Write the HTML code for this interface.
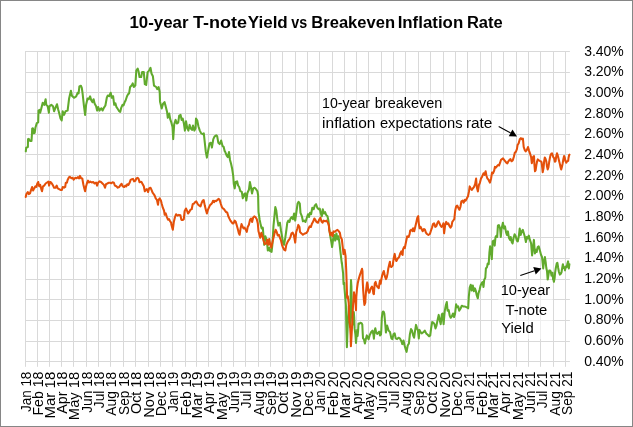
<!DOCTYPE html>
<html><head><meta charset="utf-8"><title>10-year T-note Yield vs Breakeven Inflation Rate</title>
<style>html,body{margin:0;padding:0;background:#fff;overflow:hidden}svg{display:block}text{font-family:"Liberation Sans",sans-serif;fill:#000}</style>
</head><body>
<svg width="633" height="427" viewBox="0 0 633 427">
<rect x="0" y="0" width="633" height="427" fill="#fff"/>
<path d="M25.0 361.5H569.9M25.0 341.5H569.9M25.0 320.5H569.9M25.0 299.5H569.9M25.0 279.5H569.9M25.0 258.5H569.9M25.0 237.5H569.9M25.0 216.5H569.9M25.0 196.5H569.9M25.0 175.5H569.9M25.0 154.5H569.9M25.0 134.5H569.9M25.0 113.5H569.9M25.0 92.5H569.9M25.0 72.5H569.9M25.0 51.5H569.9M25.5 51.0V366.8M37.5 51.0V366.8M49.5 51.0V366.8M61.5 51.0V366.8M73.5 51.0V366.8M86.5 51.0V366.8M98.5 51.0V366.8M110.5 51.0V366.8M123.5 51.0V366.8M135.5 51.0V366.8M148.5 51.0V366.8M160.5 51.0V366.8M172.5 51.0V366.8M185.5 51.0V366.8M196.5 51.0V366.8M208.5 51.0V366.8M221.5 51.0V366.8M233.5 51.0V366.8M245.5 51.0V366.8M258.5 51.0V366.8M270.5 51.0V366.8M282.5 51.0V366.8M295.5 51.0V366.8M307.5 51.0V366.8M319.5 51.0V366.8M332.5 51.0V366.8M344.5 51.0V366.8M356.5 51.0V366.8M368.5 51.0V366.8M381.5 51.0V366.8M393.5 51.0V366.8M405.5 51.0V366.8M418.5 51.0V366.8M430.5 51.0V366.8M443.5 51.0V366.8M455.5 51.0V366.8M467.5 51.0V366.8M480.5 51.0V366.8M491.5 51.0V366.8M503.5 51.0V366.8M516.5 51.0V366.8M528.5 51.0V366.8M540.5 51.0V366.8M553.5 51.0V366.8M565.5 51.0V366.8" stroke="#d9d9d9" stroke-width="1" fill="none"/>
<polyline points="25.8,151.3 26.2,147.7 27.9,147.0 28.0,139.2 28.7,138.9 30.1,141.0 31.5,141.0 31.9,135.0 32.2,128.6 32.9,128.2 33.8,133.2 34.7,132.8 35.4,127.8 36.8,123.1 38.2,122.3 38.5,110.6 39.6,109.9 40.2,112.7 41.3,108.5 42.7,102.8 44.2,104.9 45.6,99.2 46.3,104.9 47.7,106.3 48.9,112.7 49.4,106.3 51.3,104.9 53.0,106.3 54.1,111.3 55.5,107.7 57.0,104.2 58.1,109.2 59.1,112.7 60.5,118.4 61.7,120.5 62.7,111.3 64.1,114.9 65.5,111.3 67.6,110.6 69.1,98.5 70.9,90.7 71.9,95.7 74.0,97.8 76.2,96.4 77.6,92.8 78.6,93.5 79.4,86.4 80.9,85.7 81.8,87.8 82.6,93.5 84.0,106.3 85.1,114.9 86.1,104.9 87.5,98.5 88.7,99.2 90.1,96.4 91.1,99.9 92.5,102.1 93.6,99.2 94.6,103.5 96.1,106.3 97.1,110.6 98.2,107.0 99.6,110.6 100.0,109.7 101.4,108.3 102.6,110.5 104.0,107.6 105.4,105.5 106.8,97.7 107.8,95.5 109.2,96.2 110.7,92.7 111.7,97.7 113.1,96.2 114.2,104.8 115.4,103.3 116.4,106.9 117.8,109.0 119.2,111.2 120.2,111.9 121.3,107.6 122.5,104.8 123.5,105.5 124.5,102.6 125.6,100.5 127.0,96.2 128.2,94.1 129.1,93.4 130.1,87.0 131.6,85.6 132.7,83.4 133.8,87.0 135.3,85.6 136.3,70.6 137.7,68.5 138.7,72.1 139.5,77.0 141.2,77.0 142.1,72.1 143.8,72.1 144.8,84.1 146.2,84.9 147.6,72.1 149.1,70.6 150.5,67.8 151.5,73.5 152.9,76.3 154.0,85.6 156.2,87.0 157.2,89.1 158.6,87.0 159.7,92.0 160.0,101.4 161.7,108.5 163.1,103.6 164.5,102.1 165.7,106.4 167.1,112.1 167.8,117.8 169.2,113.5 170.2,119.2 171.4,122.7 172.5,127.0 173.2,139.1 174.2,124.2 175.6,119.9 176.8,123.5 178.2,122.7 179.2,115.6 180.6,114.9 181.6,119.9 182.7,118.5 183.9,123.5 184.9,130.6 186.0,121.3 187.3,128.4 188.4,130.6 189.6,124.9 190.6,128.4 192.0,129.9 193.0,125.6 194.4,130.6 195.5,128.4 196.0,118.5 197.3,120.6 198.4,126.3 199.8,130.6 201.2,133.4 202.7,134.1 203.8,133.4 204.8,142.7 205.8,151.9 206.9,157.6 208.3,149.8 209.5,143.4 210.9,142.7 211.9,147.6 213.3,139.1 214.7,136.3 216.2,135.3 217.2,136.3 218.3,142.7 219.7,144.1 221.1,140.5 222.6,146.2 223.7,146.9 224.7,151.2 225.0,151.4 226.7,155.7 227.8,157.1 229.0,152.1 230.0,160.0 231.0,163.5 232.1,168.5 233.2,175.6 233.8,184.1 234.7,188.4 235.7,182.0 237.1,181.3 238.1,185.5 239.2,187.0 240.4,191.2 241.8,191.9 242.8,198.3 244.2,194.1 245.2,193.4 246.3,200.5 247.5,192.7 248.9,189.8 249.9,182.0 250.9,187.0 252.0,193.4 253.2,188.4 254.6,187.7 256.0,189.1 257.4,191.2 258.1,195.0 258.5,212.1 259.7,219.9 260.7,224.9 261.7,228.4 262.8,227.7 263.5,236.2 264.2,244.8 265.4,236.2 266.8,240.5 267.8,250.5 269.2,247.6 270.2,251.2 271.6,251.9 272.5,243.3 273.5,225.6 274.5,215.6 275.3,207.1 276.3,210.6 277.3,219.2 278.4,225.6 279.9,222.7 281.0,230.5 282.0,236.2 283.0,242.6 284.1,244.8 285.3,237.7 286.3,230.5 287.3,222.7 288.4,220.6 289.5,222.0 290.5,218.5 291.9,217.0 292.9,219.2 294.1,213.5 295.2,220.6 296.2,213.5 297.6,203.5 298.6,201.8 299.8,203.5 300.5,212.8 301.9,216.3 302.9,221.3 304.3,220.6 305.5,222.0 306.6,218.5 308.0,214.2 309.0,217.0 310.0,212.8 311.1,214.2 312.3,207.8 313.7,209.2 314.7,205.7 316.1,204.2 317.3,207.8 318.7,209.2 319.7,208.5 320.8,213.5 321.8,216.3 322.8,209.2 323.9,213.5 325.1,212.1 326.1,214.9 327.5,216.3 328.5,221.3 329.3,229.1 330.3,236.2 331.3,241.9 332.1,247.0 333.2,238.5 334.2,234.9 335.2,240.6 336.4,233.5 337.5,239.2 338.5,236.3 339.5,243.4 340.6,253.4 341.8,263.3 341.8,262.0 342.4,267.7 343.1,273.4 343.4,281.0 343.6,284.3 344.3,282.9 344.5,288.5 345.2,297.0 345.9,305.0 346.3,325.0 346.9,347.3 347.7,326.0 348.1,318.0 348.5,312.0 348.9,306.0 349.6,318.0 350.2,327.0 350.6,297.0 351.0,280.0 351.4,286.0 351.8,307.0 352.4,318.0 353.0,324.5 353.4,316.0 353.8,312.0 354.2,317.0 354.6,328.4 355.4,334.5 356.0,343.0 356.6,336.0 357.2,330.0 357.6,336.0 358.1,331.0 358.5,323.5 359.5,323.6 360.5,322.8 361.6,323.2 362.3,324.5 362.6,331.0 363.0,338.3 363.9,339.2 364.9,343.5 365.8,339.2 366.8,335.4 367.7,337.3 368.6,339.2 369.6,335.4 370.5,333.5 371.5,331.6 372.4,330.7 373.4,334.5 373.9,338.7 374.6,330.7 375.3,328.3 376.2,332.6 377.2,334.0 378.1,332.6 379.1,331.6 380.0,335.4 381.0,334.5 381.3,330.0 381.8,318.0 382.5,312.5 383.0,311.6 383.7,311.8 384.3,313.5 384.9,320.0 385.4,326.0 385.9,332.5 386.4,329.0 387.1,325.6 388.6,330.6 390.0,332.0 391.4,338.4 392.4,339.1 393.5,334.1 394.7,333.4 395.7,338.4 397.1,339.1 398.5,337.7 399.9,338.4 401.4,341.2 402.3,344.1 403.5,340.5 404.6,345.5 405.6,349.1 406.6,351.9 407.7,345.5 408.9,343.4 409.9,334.1 411.0,329.1 412.0,330.6 413.2,335.5 414.1,337.7 415.1,330.6 416.0,324.9 417.0,328.4 418.0,330.6 418.8,338.4 419.5,329.9 420.5,332.0 421.7,333.4 422.7,332.7 423.7,332.0 424.8,330.6 426.2,333.4 427.7,334.8 429.1,336.3 430.2,335.5 431.2,327.7 432.2,322.0 433.3,322.7 434.5,324.2 435.5,328.4 436.5,325.6 437.6,319.9 438.7,314.9 439.7,319.9 440.7,324.2 441.9,314.2 442.6,313.5 443.6,324.2 444.7,311.4 445.9,305.0 446.8,302.1 447.6,310.7 448.7,310.0 449.7,315.6 450.7,317.8 451.8,316.4 453.0,313.5 454.0,317.1 455.0,314.2 456.1,304.3 457.2,307.1 458.2,306.4 459.2,310.7 460.6,308.5 461.8,305.7 463.2,306.4 464.6,306.4 466.3,307.1 467.7,307.8 468.2,308.3 468.8,296.9 469.7,287.7 470.7,284.8 471.7,290.5 472.8,285.5 473.9,291.2 474.9,288.4 475.9,291.2 476.8,295.5 477.8,298.3 478.5,293.4 479.6,289.8 480.6,285.5 481.6,283.4 482.5,282.0 483.5,287.0 484.2,279.9 485.3,277.7 485.9,268.5 487.0,267.1 487.7,263.5 488.7,264.2 489.4,252.7 490.1,246.3 491.2,252.0 491.8,259.1 492.7,241.3 493.7,240.6 494.7,245.6 495.5,237.0 496.5,235.6 497.2,237.0 497.9,225.7 498.9,225.0 500.1,228.5 500.8,237.0 501.5,229.2 502.9,222.8 504.0,228.5 505.0,226.4 506.0,232.1 506.9,234.9 507.9,231.4 508.9,237.7 510.0,239.9 510.7,237.0 511.7,242.0 512.6,243.4 513.6,237.7 514.6,234.2 515.7,236.3 516.8,240.6 517.8,241.3 518.8,236.3 519.7,228.5 520.7,234.9 521.7,231.4 522.8,229.9 523.9,233.5 524.9,237.0 525.9,242.0 526.8,237.0 527.8,238.5 528.8,235.6 529.9,239.9 531.1,243.4 532.1,255.5 533.0,247.7 533.9,239.9 534.9,253.4 535.9,249.8 536.7,252.0 537.7,247.0 538.7,246.3 539.9,250.5 541.0,254.8 542.0,256.9 542.5,261.4 543.2,268.5 544.0,261.4 544.9,257.1 545.7,262.3 546.3,268.0 547.0,270.9 547.7,279.9 548.5,274.6 549.2,270.4 550.1,270.4 550.8,271.8 551.5,275.6 552.5,272.7 553.2,280.3 553.9,281.8 554.6,278.4 555.1,272.7 555.8,268.0 556.8,263.3 557.4,262.8 558.2,268.0 558.9,271.8 559.9,274.6 560.8,273.7 561.5,272.3 562.2,268.0 562.9,264.2 563.7,268.0 564.3,267.1 565.0,270.4 565.8,266.6 566.7,267.1 567.5,263.3 568.1,261.4 568.8,268.5 569.4,264.2" fill="none" stroke="#61aa2d" stroke-width="2.05" stroke-linejoin="round" stroke-linecap="round"/>
<polyline points="25.7,197.0 26.4,194.1 27.8,192.0 28.8,194.1 30.0,193.4 31.1,189.9 32.1,187.0 33.1,190.6 34.2,188.4 35.4,186.3 36.4,187.0 37.3,183.5 38.2,182.0 39.2,186.3 40.2,184.9 41.3,189.1 42.0,191.3 43.0,186.3 44.2,185.6 45.6,183.5 47.0,182.5 48.4,181.6 49.1,185.6 50.1,182.0 51.3,182.7 52.7,184.9 54.1,187.7 55.5,187.7 56.7,185.6 57.7,188.4 59.1,189.1 60.5,189.9 61.9,189.9 62.7,187.0 64.1,187.7 65.2,187.0 65.8,182.7 66.9,182.7 67.6,179.9 69.1,177.1 70.0,176.8 71.2,178.2 72.6,177.8 73.7,179.6 75.2,177.8 76.6,178.2 78.0,177.1 79.0,178.5 80.0,175.9 81.1,178.2 82.3,178.5 83.3,184.2 84.3,188.4 85.1,191.3 86.1,186.3 87.1,182.7 88.0,180.6 89.0,182.5 90.4,181.6 91.8,182.5 93.2,182.0 94.6,183.5 96.1,182.5 97.1,185.6 98.2,182.5 99.6,181.3 101.0,182.0 102.5,183.5 103.9,184.9 105.0,187.7 106.0,184.2 107.4,183.5 108.9,182.7 110.0,182.7 111.4,183.2 112.5,182.3 113.9,182.8 114.9,185.6 116.4,186.3 117.8,187.7 119.2,187.0 120.6,184.9 121.6,183.8 122.7,186.3 124.2,187.0 125.3,185.6 126.3,186.3 127.3,184.2 128.4,184.9 129.6,182.8 130.6,179.9 132.0,179.2 133.0,178.9 134.1,181.4 135.3,180.9 136.3,178.5 137.7,177.8 138.7,179.2 139.5,182.3 140.5,181.8 141.5,182.1 142.7,184.2 143.8,186.3 144.8,191.3 145.8,189.9 146.9,189.2 148.1,192.0 149.1,188.5 150.5,187.7 151.5,189.9 152.6,192.7 153.7,194.1 154.7,195.6 155.7,198.4 156.9,199.8 158.0,204.8 158.6,199.8 159.7,198.4 160.9,200.5 161.8,204.1 162.8,207.7 164.0,210.5 164.7,214.8 165.7,213.3 166.8,216.9 168.0,219.7 169.0,219.0 170.0,221.2 171.1,222.6 171.4,224.8 172.8,229.8 173.8,222.0 175.0,217.0 176.1,214.2 177.5,215.6 178.9,214.9 180.4,215.3 181.4,219.9 182.8,219.9 183.8,219.1 184.6,211.3 186.0,208.5 187.0,210.6 188.0,213.5 189.2,212.0 190.3,209.9 191.7,209.2 192.7,204.2 194.1,203.5 195.1,202.1 196.3,201.4 197.4,203.5 198.4,204.9 199.4,205.6 200.5,206.4 201.7,202.8 202.7,200.7 203.7,200.0 204.8,205.6 205.9,209.9 206.9,213.5 207.9,209.9 209.1,207.1 210.2,204.9 211.2,204.2 212.2,202.8 213.1,200.7 214.1,202.1 215.0,200.7 216.2,201.1 217.3,200.0 218.7,198.8 219.7,200.0 220.7,203.5 221.9,207.1 223.0,208.5 224.0,209.2 225.0,210.6 226.1,212.0 227.3,212.7 228.3,216.3 229.3,218.4 230.4,220.6 231.5,222.0 232.5,223.4 233.5,223.4 234.7,220.6 235.8,222.0 236.8,225.5 237.8,229.1 238.9,233.4 239.6,234.8 240.6,228.4 241.5,224.1 242.5,226.3 243.5,228.4 244.6,227.7 245.8,229.8 246.8,231.9 247.7,227.0 248.9,224.8 250.0,219.9 251.1,218.5 252.1,222.0 253.1,217.7 254.3,216.3 255.4,217.0 256.8,219.2 257.8,223.4 258.5,231.3 259.7,235.5 260.2,237.7 261.4,232.7 262.5,236.2 263.5,240.5 264.9,244.1 266.4,243.3 267.1,239.8 268.2,244.8 269.2,239.1 270.2,244.1 271.3,247.6 272.5,241.9 273.5,237.7 274.5,233.4 275.6,229.8 276.7,232.0 277.7,235.5 278.9,234.8 279.9,237.7 281.0,240.5 282.0,244.8 283.0,247.6 284.1,249.7 285.3,250.5 286.3,244.8 287.3,242.6 288.4,240.5 289.5,239.1 290.5,236.9 291.5,233.4 292.7,232.7 293.8,234.8 295.2,242.6 296.2,232.0 297.2,229.1 298.3,224.9 299.5,227.0 300.0,232.0 301.5,233.4 302.9,234.8 304.3,233.7 306.2,233.1 307.6,231.3 308.6,228.4 309.7,226.3 310.9,227.0 311.8,224.1 313.3,221.3 314.3,218.5 315.4,219.9 316.5,222.0 318.0,222.7 319.4,219.2 320.4,217.7 321.4,221.3 322.5,222.7 323.6,220.6 325.1,221.3 326.5,220.6 327.9,222.7 328.9,225.6 329.3,230.6 330.4,234.9 331.4,232.8 332.4,236.3 333.5,231.4 335.0,231.8 336.4,230.4 337.5,229.9 338.9,231.4 339.9,232.8 340.6,237.0 341.8,239.2 342.8,247.7 343.5,254.1 344.6,249.8 345.6,256.2 346.2,269.6 346.6,281.0 346.9,290.4 347.1,298.0 347.8,296.1 348.3,299.9 348.7,303.0 349.2,318.7 350.2,328.2 350.6,335.0 350.9,346.3 351.6,335.0 352.3,322.0 353.0,306.0 353.6,298.0 354.0,292.3 354.4,295.0 355.1,299.9 355.6,304.0 356.0,310.2 356.3,297.0 357.0,288.5 357.8,282.9 358.7,279.1 359.8,275.3 361.1,271.5 362.0,268.8 362.5,271.5 362.7,281.0 363.2,290.4 363.9,299.9 364.4,305.0 365.3,302.6 365.5,298.0 366.1,290.4 366.8,284.3 367.2,282.4 367.7,284.7 368.2,290.4 368.9,292.8 369.6,292.3 370.3,289.5 371.0,288.1 372.0,286.6 372.7,288.5 373.4,293.8 373.9,294.2 374.3,288.5 374.8,283.3 375.6,281.9 376.2,284.3 377.2,286.6 378.1,287.6 378.8,288.1 379.4,283.8 380.0,280.5 380.7,283.8 381.4,279.1 382.2,275.3 383.2,272.4 383.8,271.0 384.5,274.3 385.2,277.2 386.0,279.1 386.7,277.6 387.6,273.4 388.3,268.5 389.2,264.5 389.9,261.7 390.3,266.3 391.3,267.0 392.7,265.6 393.3,261.0 393.8,257.8 394.7,253.9 395.6,259.2 396.4,261.0 397.7,258.5 399.1,257.1 400.2,253.5 401.3,251.4 402.0,254.2 402.6,255.0 403.0,249.3 404.0,247.1 404.8,248.2 405.5,244.5 406.0,242.0 407.2,236.3 408.6,237.0 409.6,234.2 410.2,230.5 411.4,229.7 412.5,231.2 413.1,228.3 414.2,231.2 415.4,226.2 416.4,221.9 417.3,217.7 418.2,216.2 418.8,223.3 419.6,228.3 420.6,226.9 421.6,229.0 422.7,231.2 423.9,229.0 424.9,229.7 425.9,232.6 427.0,234.0 428.4,235.0 429.9,234.0 431.0,230.5 432.0,227.6 433.0,224.1 434.1,223.3 435.3,226.9 436.3,226.2 437.3,223.3 438.4,221.2 439.5,223.3 440.5,225.5 441.5,226.9 442.7,225.5 443.4,223.3 444.1,233.3 445.2,224.8 446.2,221.9 447.2,224.1 448.3,223.3 449.5,226.2 450.5,227.6 451.5,226.2 452.3,221.9 453.3,220.5 454.3,219.1 455.2,210.5 456.2,206.3 457.2,205.6 458.3,207.7 459.4,209.8 460.4,207.0 461.4,201.3 462.6,200.6 463.7,202.7 464.7,199.9 465.7,200.6 466.8,198.5 468.0,196.3 469.0,191.4 469.7,186.4 470.8,188.5 471.8,189.9 472.8,188.5 473.9,187.1 475.1,184.2 476.1,178.6 476.8,187.1 477.9,191.4 478.9,185.0 479.9,182.8 481.0,178.6 482.2,176.4 483.5,173.3 484.5,174.8 485.6,171.2 486.4,175.5 487.3,178.3 488.5,179.7 489.9,182.6 491.0,179.0 492.0,172.6 493.0,173.3 494.2,170.5 494.9,166.9 495.9,167.7 497.0,166.2 498.2,164.8 499.1,165.5 500.1,162.7 501.0,159.8 502.0,159.1 503.0,158.4 504.1,159.8 505.3,161.3 506.3,162.7 507.3,163.4 508.4,161.3 509.5,159.8 510.5,159.1 511.5,161.3 512.7,160.5 513.8,157.0 514.8,152.7 515.8,152.0 516.9,149.2 517.6,144.9 518.6,143.5 519.8,139.2 520.9,138.1 521.9,139.2 522.9,138.5 523.7,147.0 524.7,149.9 525.7,151.3 526.9,149.9 528.0,147.0 529.0,150.6 530.0,153.4 531.1,157.0 531.8,163.2 532.5,159.9 533.3,156.6 534.0,156.1 534.4,164.6 535.0,171.3 535.6,170.3 536.3,165.6 537.1,161.3 537.8,159.4 538.8,160.4 539.7,160.9 540.7,161.3 541.6,162.3 542.3,168.4 542.7,172.2 543.5,168.4 544.2,160.9 544.8,157.5 545.6,159.0 546.4,161.8 547.0,166.5 547.7,169.4 548.4,167.5 549.2,161.8 549.9,158.0 550.5,155.2 551.3,153.7 552.0,153.3 552.7,155.2 553.4,157.5 554.1,158.0 554.9,161.8 555.5,161.3 556.2,156.6 557.0,153.3 557.7,155.2 558.4,158.0 559.1,160.9 559.8,163.7 560.6,167.5 561.2,169.4 561.9,167.0 562.7,163.2 563.4,159.0 564.1,156.1 564.7,157.5 565.5,161.3 566.3,162.7 567.2,161.3 568.2,160.9 568.5,158.0 569.1,155.2 569.5,154.7" fill="none" stroke="#e4500a" stroke-width="2.05" stroke-linejoin="round" stroke-linecap="round"/>
<g opacity="0.999">
<rect x="319.7" y="93.3" width="175.8" height="40.6" fill="#fff" fill-opacity="0.55"/>
<rect x="498.2" y="280" width="54.6" height="59" fill="#fff" fill-opacity="0.55"/>
<text x="129.5" y="28.2" font-size="17.2" font-weight="bold" textLength="59.05" lengthAdjust="spacingAndGlyphs">10-year</text>
<text x="192.95" y="28.2" font-size="17.2" font-weight="bold" textLength="54.0" lengthAdjust="spacingAndGlyphs">T-note</text>
<text x="247.7" y="28.2" font-size="17.2" font-weight="bold" textLength="40.1" lengthAdjust="spacingAndGlyphs">Yield</text>
<text x="291.3" y="28.2" font-size="17.2" font-weight="bold" textLength="15.9" lengthAdjust="spacingAndGlyphs">vs</text>
<text x="311.3" y="28.2" font-size="17.2" font-weight="bold" textLength="83.7" lengthAdjust="spacingAndGlyphs">Breakeven</text>
<text x="397.65" y="28.2" font-size="17.2" font-weight="bold" textLength="65.55" lengthAdjust="spacingAndGlyphs">Inflation</text>
<text x="466.9" y="28.2" font-size="17.2" font-weight="bold" textLength="35.8" lengthAdjust="spacingAndGlyphs">Rate</text>
<text x="584.15" y="365.63" font-size="13.8" textLength="39.65" lengthAdjust="spacingAndGlyphs">0.40%</text>
<text x="584.15" y="344.96" font-size="13.8" textLength="39.65" lengthAdjust="spacingAndGlyphs">0.60%</text>
<text x="584.15" y="324.29" font-size="13.8" textLength="39.65" lengthAdjust="spacingAndGlyphs">0.80%</text>
<text x="584.15" y="303.62" font-size="13.8" textLength="39.65" lengthAdjust="spacingAndGlyphs">1.00%</text>
<text x="584.15" y="282.95" font-size="13.8" textLength="39.65" lengthAdjust="spacingAndGlyphs">1.20%</text>
<text x="584.15" y="262.28" font-size="13.8" textLength="39.65" lengthAdjust="spacingAndGlyphs">1.40%</text>
<text x="584.15" y="241.61" font-size="13.8" textLength="39.65" lengthAdjust="spacingAndGlyphs">1.60%</text>
<text x="584.15" y="220.94" font-size="13.8" textLength="39.65" lengthAdjust="spacingAndGlyphs">1.80%</text>
<text x="584.15" y="200.27" font-size="13.8" textLength="39.65" lengthAdjust="spacingAndGlyphs">2.00%</text>
<text x="584.15" y="179.60" font-size="13.8" textLength="39.65" lengthAdjust="spacingAndGlyphs">2.20%</text>
<text x="584.15" y="158.93" font-size="13.8" textLength="39.65" lengthAdjust="spacingAndGlyphs">2.40%</text>
<text x="584.15" y="138.26" font-size="13.8" textLength="39.65" lengthAdjust="spacingAndGlyphs">2.60%</text>
<text x="584.15" y="117.59" font-size="13.8" textLength="39.65" lengthAdjust="spacingAndGlyphs">2.80%</text>
<text x="584.15" y="96.92" font-size="13.8" textLength="39.65" lengthAdjust="spacingAndGlyphs">3.00%</text>
<text x="584.15" y="76.25" font-size="13.8" textLength="39.65" lengthAdjust="spacingAndGlyphs">3.20%</text>
<text x="584.15" y="55.58" font-size="13.8" textLength="39.65" lengthAdjust="spacingAndGlyphs">3.40%</text>
<text transform="translate(30.75 412.03) rotate(-90)" font-size="13.9" textLength="40.38" lengthAdjust="spacingAndGlyphs">Jan 18</text>
<text transform="translate(42.77 415.48) rotate(-90)" font-size="13.9" textLength="43.82" lengthAdjust="spacingAndGlyphs">Feb 18</text>
<text transform="translate(54.79 418.57) rotate(-90)" font-size="13.9" textLength="46.9" lengthAdjust="spacingAndGlyphs">Mar 18</text>
<text transform="translate(66.82 413.78) rotate(-90)" font-size="13.9" textLength="42.14" lengthAdjust="spacingAndGlyphs">Apr 18</text>
<text transform="translate(78.84 420.18) rotate(-90)" font-size="13.9" textLength="48.51" lengthAdjust="spacingAndGlyphs">May 18</text>
<text transform="translate(91.86 412.74) rotate(-90)" font-size="13.9" textLength="41.13" lengthAdjust="spacingAndGlyphs">Jun 18</text>
<text transform="translate(103.89 408.18) rotate(-90)" font-size="13.9" textLength="36.52" lengthAdjust="spacingAndGlyphs">Jul 18</text>
<text transform="translate(115.91 415.66) rotate(-90)" font-size="13.9" textLength="43.92" lengthAdjust="spacingAndGlyphs">Aug 18</text>
<text transform="translate(128.93 414.98) rotate(-90)" font-size="13.9" textLength="43.32" lengthAdjust="spacingAndGlyphs">Sep 18</text>
<text transform="translate(140.95 414.02) rotate(-90)" font-size="13.9" textLength="42.34" lengthAdjust="spacingAndGlyphs">Oct 18</text>
<text transform="translate(153.98 417.68) rotate(-90)" font-size="13.9" textLength="46.04" lengthAdjust="spacingAndGlyphs">Nov 18</text>
<text transform="translate(166.00 416.31) rotate(-90)" font-size="13.9" textLength="44.56" lengthAdjust="spacingAndGlyphs">Dec 18</text>
<text transform="translate(178.02 412.03) rotate(-90)" font-size="13.9" textLength="40.38" lengthAdjust="spacingAndGlyphs">Jan 19</text>
<text transform="translate(191.05 415.48) rotate(-90)" font-size="13.9" textLength="43.82" lengthAdjust="spacingAndGlyphs">Feb 19</text>
<text transform="translate(202.07 418.57) rotate(-90)" font-size="13.9" textLength="46.9" lengthAdjust="spacingAndGlyphs">Mar 19</text>
<text transform="translate(214.09 413.78) rotate(-90)" font-size="13.9" textLength="42.14" lengthAdjust="spacingAndGlyphs">Apr 19</text>
<text transform="translate(227.11 420.18) rotate(-90)" font-size="13.9" textLength="48.51" lengthAdjust="spacingAndGlyphs">May 19</text>
<text transform="translate(239.14 412.74) rotate(-90)" font-size="13.9" textLength="41.13" lengthAdjust="spacingAndGlyphs">Jun 19</text>
<text transform="translate(251.16 408.18) rotate(-90)" font-size="13.9" textLength="36.52" lengthAdjust="spacingAndGlyphs">Jul 19</text>
<text transform="translate(264.18 415.66) rotate(-90)" font-size="13.9" textLength="43.92" lengthAdjust="spacingAndGlyphs">Aug 19</text>
<text transform="translate(276.20 414.98) rotate(-90)" font-size="13.9" textLength="43.32" lengthAdjust="spacingAndGlyphs">Sep 19</text>
<text transform="translate(288.23 414.02) rotate(-90)" font-size="13.9" textLength="42.34" lengthAdjust="spacingAndGlyphs">Oct 19</text>
<text transform="translate(301.25 417.68) rotate(-90)" font-size="13.9" textLength="46.04" lengthAdjust="spacingAndGlyphs">Nov 19</text>
<text transform="translate(313.27 416.31) rotate(-90)" font-size="13.9" textLength="44.56" lengthAdjust="spacingAndGlyphs">Dec 19</text>
<text transform="translate(325.29 412.03) rotate(-90)" font-size="13.9" textLength="40.38" lengthAdjust="spacingAndGlyphs">Jan 20</text>
<text transform="translate(338.32 415.48) rotate(-90)" font-size="13.9" textLength="43.82" lengthAdjust="spacingAndGlyphs">Feb 20</text>
<text transform="translate(350.34 418.57) rotate(-90)" font-size="13.9" textLength="46.9" lengthAdjust="spacingAndGlyphs">Mar 20</text>
<text transform="translate(362.36 413.78) rotate(-90)" font-size="13.9" textLength="42.14" lengthAdjust="spacingAndGlyphs">Apr 20</text>
<text transform="translate(374.39 420.18) rotate(-90)" font-size="13.9" textLength="48.51" lengthAdjust="spacingAndGlyphs">May 20</text>
<text transform="translate(387.41 412.74) rotate(-90)" font-size="13.9" textLength="41.13" lengthAdjust="spacingAndGlyphs">Jun 20</text>
<text transform="translate(399.43 408.18) rotate(-90)" font-size="13.9" textLength="36.52" lengthAdjust="spacingAndGlyphs">Jul 20</text>
<text transform="translate(411.45 415.66) rotate(-90)" font-size="13.9" textLength="43.92" lengthAdjust="spacingAndGlyphs">Aug 20</text>
<text transform="translate(424.48 414.98) rotate(-90)" font-size="13.9" textLength="43.32" lengthAdjust="spacingAndGlyphs">Sep 20</text>
<text transform="translate(436.50 414.02) rotate(-90)" font-size="13.9" textLength="42.34" lengthAdjust="spacingAndGlyphs">Oct 20</text>
<text transform="translate(449.52 417.68) rotate(-90)" font-size="13.9" textLength="46.04" lengthAdjust="spacingAndGlyphs">Nov 20</text>
<text transform="translate(461.55 416.31) rotate(-90)" font-size="13.9" textLength="44.56" lengthAdjust="spacingAndGlyphs">Dec 20</text>
<text transform="translate(473.57 412.03) rotate(-90)" font-size="13.9" textLength="40.38" lengthAdjust="spacingAndGlyphs">Jan 21</text>
<text transform="translate(486.59 415.48) rotate(-90)" font-size="13.9" textLength="43.82" lengthAdjust="spacingAndGlyphs">Feb 21</text>
<text transform="translate(497.61 418.57) rotate(-90)" font-size="13.9" textLength="46.9" lengthAdjust="spacingAndGlyphs">Mar 21</text>
<text transform="translate(509.64 413.78) rotate(-90)" font-size="13.9" textLength="42.14" lengthAdjust="spacingAndGlyphs">Apr 21</text>
<text transform="translate(522.66 420.18) rotate(-90)" font-size="13.9" textLength="48.51" lengthAdjust="spacingAndGlyphs">May 21</text>
<text transform="translate(534.68 412.74) rotate(-90)" font-size="13.9" textLength="41.13" lengthAdjust="spacingAndGlyphs">Jun 21</text>
<text transform="translate(546.70 408.18) rotate(-90)" font-size="13.9" textLength="36.52" lengthAdjust="spacingAndGlyphs">Jul 21</text>
<text transform="translate(559.73 415.66) rotate(-90)" font-size="13.9" textLength="43.92" lengthAdjust="spacingAndGlyphs">Aug 21</text>
<text transform="translate(571.75 414.98) rotate(-90)" font-size="13.9" textLength="43.32" lengthAdjust="spacingAndGlyphs">Sep 21</text>
<text x="322.1" y="107.9" font-size="13.8" textLength="47.95" lengthAdjust="spacingAndGlyphs">10-year</text>
<text x="374.8" y="107.9" font-size="13.8" textLength="67.6" lengthAdjust="spacingAndGlyphs">breakeven</text>
<text x="322.1" y="127.5" font-size="13.8" textLength="53.4" lengthAdjust="spacingAndGlyphs">inflation</text>
<text x="379.95" y="127.5" font-size="13.8" textLength="82.55" lengthAdjust="spacingAndGlyphs">expectations</text>
<text x="465.9" y="127.5" font-size="13.8" textLength="26.55" lengthAdjust="spacingAndGlyphs">rate</text>
<text x="500.7" y="294.8" font-size="13.8" textLength="49.45" lengthAdjust="spacingAndGlyphs">10-year</text>
<text x="505.45" y="314.7" font-size="13.8" textLength="41.9" lengthAdjust="spacingAndGlyphs">T-note</text>
<text x="501.2" y="333.4" font-size="13.8" textLength="32.5" lengthAdjust="spacingAndGlyphs">Yield</text>
</g>
<path d="M498.70 126.40L510.59 132.90" stroke="#000" stroke-width="1.1" fill="none"/><path d="M517.00 136.40L508.75 136.28L512.44 129.52Z" fill="#000"/>
<path d="M520.30 275.60L534.49 270.76" stroke="#000" stroke-width="1.1" fill="none"/><path d="M541.40 268.40L535.73 274.40L533.25 267.11Z" fill="#000"/>
<rect x="0.5" y="0.5" width="632" height="426" fill="none" stroke="#868686" stroke-width="1"/>
</svg></body></html>
